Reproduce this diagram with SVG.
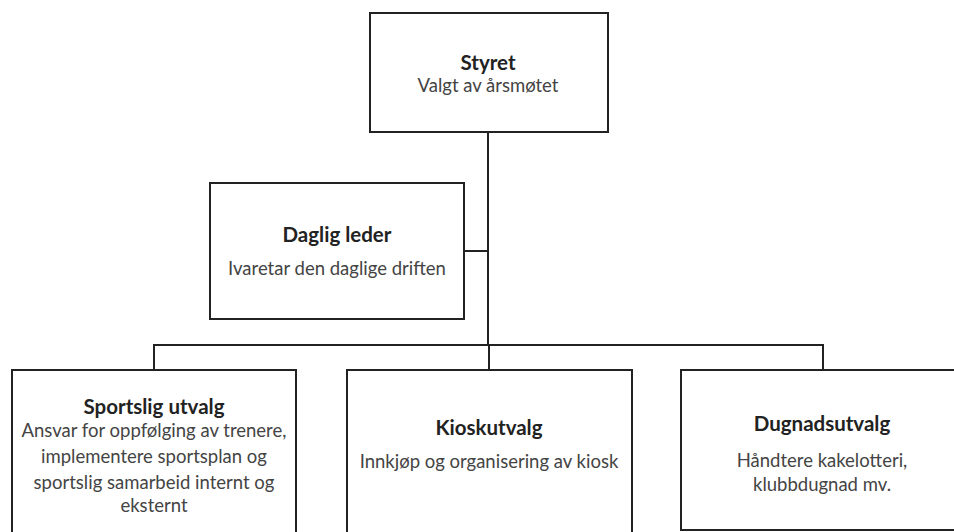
<svg xmlns="http://www.w3.org/2000/svg" width="954" height="532" viewBox="0 0 954 532">
<style>
.box{fill:#fff;stroke:#222;stroke-width:2}
.con{fill:none;stroke:#222;stroke-width:2}
text{font-family:Lato,"Liberation Sans",sans-serif;text-anchor:middle;font-size:18.5px}
.t{font-weight:bold;fill:#222;font-size:20.5px}
.d{fill:#444}
</style>
<rect width="954" height="532" fill="#fff"/>
<g id="connectors">
<line class="con" x1="488" y1="132" x2="488" y2="345"/>
<line class="con" x1="464" y1="251" x2="488" y2="251"/>
<polyline class="con" points="154,370 154,345 823,345 823,370"/>
<line class="con" x1="489" y1="345" x2="489" y2="370"/>
</g>
<g id="styret">
<rect class="box" x="370" y="13" width="238" height="119"/>
<text class="t" x="488" y="70">Styret</text>
<text class="d" x="488" y="92">Valgt av årsmøtet</text>
</g>
<g id="daglig-leder">
<rect class="box" x="210" y="183" width="254" height="136"/>
<text class="t" x="337" y="242">Daglig leder</text>
<text class="d" x="337" y="275">Ivaretar den daglige driften</text>
</g>
<g id="sportslig">
<rect class="box" x="12" y="370" width="284" height="180"/>
<text class="t" x="154" y="414">Sportslig utvalg</text>
<text class="d" x="154" y="437">Ansvar for oppfølging av trenere,</text>
<text class="d" x="154" y="463">implementere  sportsplan og</text>
<text class="d" x="154" y="489">sportslig samarbeid internt og</text>
<text class="d" x="154" y="512">eksternt</text>
</g>
<g id="kiosk">
<rect class="box" x="347" y="370" width="285" height="180"/>
<text class="t" x="489" y="435">Kioskutvalg</text>
<text class="d" x="489" y="468">Innkjøp og organisering av kiosk</text>
</g>
<g id="dugnad">
<rect class="box" x="681" y="370" width="290" height="160"/>
<text class="t" x="822" y="431">Dugnadsutvalg</text>
<text class="d" x="822" y="467">Håndtere kakelotteri,</text>
<text class="d" x="822" y="491">klubbdugnad mv.</text>
</g>
</svg>
